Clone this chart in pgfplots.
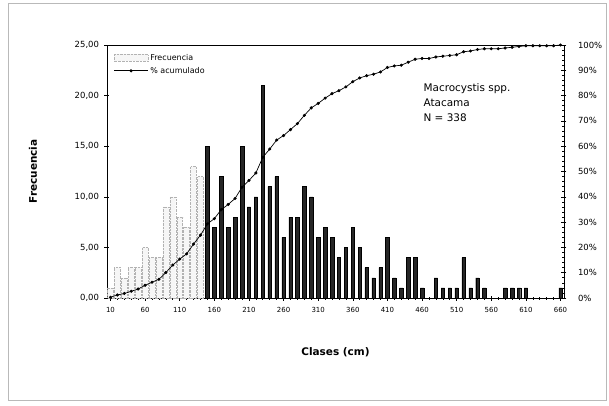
\documentclass[border=0pt]{standalone}
\usepackage{pgfplots}
\pgfplotsset{compat=1.18}
\usepackage{pgfplotstable}
\usepackage{fontspec}
\setmainfont{DejaVu Sans}
\usetikzlibrary{patterns}

% Frecuencia, clases 10-140 (dotted bars)
\pgfplotstableread{
x f
10 1
20 3
30 2
40 3
50 3
60 5
70 4
80 4
90 9
100 10
110 8
120 7
130 13
140 12
}\freqA

% Frecuencia, clases 150-660 (dark bars)
\pgfplotstableread{
x f
150 15
160 7
170 12
180 7
190 8
200 15
210 9
220 10
230 21
240 11
250 12
260 6
270 8
280 8
290 11
300 10
310 6
320 7
330 6
340 4
350 5
360 7
370 5
380 3
390 2
400 3
410 6
420 2
430 1
440 4
450 4
460 1
470 0
480 2
490 1
500 1
510 1
520 4
530 1
540 2
550 1
560 0
570 0
580 1
590 1
600 1
610 1
620 0
630 0
640 0
650 0
660 1
}\freqB

% % acumulado
\pgfplotstableread{
x p
10 0.30
20 1.18
30 1.78
40 2.66
50 3.55
60 5.03
70 6.21
80 7.40
90 10.06
100 13.02
110 15.38
120 17.46
130 21.30
140 24.85
150 29.29
160 31.36
170 34.91
180 36.98
190 39.35
200 43.79
210 46.45
220 49.41
230 55.62
240 58.88
250 62.43
260 64.20
270 66.57
280 68.93
290 72.19
300 75.15
310 76.92
320 78.99
330 80.77
340 81.95
350 83.43
360 85.50
370 86.98
380 87.87
390 88.46
400 89.35
410 91.12
420 91.72
430 92.01
440 93.20
450 94.38
460 94.67
470 94.67
480 95.27
490 95.56
500 95.86
510 96.15
520 97.34
530 97.63
540 98.22
550 98.52
560 98.52
570 98.52
580 98.82
590 99.11
600 99.41
610 99.70
620 99.70
630 99.70
640 99.70
650 99.70
660 100.00
}\acum

\begin{document}
\begin{tikzpicture}
\useasboundingbox (-107bp,-108bp) rectangle (502bp,298bp);
\draw[gray!55, line width=0.8pt] (-99bp,-102bp) rectangle (499bp,295bp);

\begin{axis}[
  at={(0,0)}, anchor=south west,
  scale only axis, width=457bp, height=253bp,
  xmin=5, xmax=665, ymin=0, ymax=25,
  xtick={10,60,...,660},
  xticklabels={10,60,110,160,210,260,310,360,410,460,510,560,610,660},
  ytick={0,5,...,25},
  yticklabels={{0,00},{5,00},{10,00},{15,00},{20,00},{25,00}},
  xtick pos=bottom, ytick pos=left,
  tick align=center,
  major tick length=5bp, minor tick length=3bp,
  minor x tick num=4,
  axis line style={black, line width=0.7pt},
  tick style={black, line width=0.6pt},
  xticklabel style={font=\fontsize{7}{8}\selectfont, yshift=-3bp},
  yticklabel style={font=\fontsize{8.5}{10}\selectfont, xshift=-2bp},
  xlabel={\textbf{Clases (cm)}},
  ylabel={\textbf{Frecuencia}},
  xlabel style={at={(axis description cs:0.5,-0.213)}, anchor=center, font=\fontsize{10.5}{12}\selectfont},
  ylabel style={at={(axis description cs:-0.162,0.5)}, anchor=center, font=\fontsize{10.5}{12}\selectfont},
]
\addplot[ybar, bar width=8.5, draw=gray!60, densely dotted, fill=gray!7] table[x=x,y=f] {\freqA};
\addplot[ybar, bar width=5, draw=black, fill=black!85] table[x=x,y=f] {\freqB};
\end{axis}

\begin{axis}[
  at={(0,0)}, anchor=south west,
  scale only axis, width=457bp, height=253bp,
  xmin=5, xmax=665, ymin=0, ymax=100,
  axis x line=none, axis y line*=right,
  ytick={0,10,...,100},
  yticklabels={0\%,10\%,20\%,30\%,40\%,50\%,60\%,70\%,80\%,90\%,100\%},
  minor y tick num=4,
  tick align=center,
  major tick length=5bp, minor tick length=3bp,
  axis line style={black, line width=0.7pt},
  tick style={black, line width=0.6pt},
  yticklabel style={font=\fontsize{8.5}{10}\selectfont, xshift=8bp},
  legend style={at={(rel axis cs:0.012,0.975)}, anchor=north west, draw=none, fill=none,
    font=\fontsize{8}{9.5}\selectfont, row sep=1pt, inner sep=1pt},
  legend cell align=left,
]
\addlegendimage{legend image code/.code={\draw[draw=gray!60, densely dotted, fill=gray!7] (0bp,-3bp) rectangle (34bp,4bp);}}
\addlegendentry{Frecuencia}
\addplot[black, line width=0.7pt, mark=*, mark size=1.2pt,
  legend image code/.code={\draw[black, line width=0.7pt] (0bp,0bp) -- (34bp,0bp); \fill (17bp,0bp) circle (1.2pt);}]
  table[x=x,y=p] {\acum};
\addlegendentry{\% acumulado}
\node[anchor=north west, align=left, font=\fontsize{10.5}{15}\selectfont] at (rel axis cs:0.685,0.86)
  {Macrocystis spp.\\Atacama\\N = 338};
\end{axis}
\end{tikzpicture}
\end{document}
